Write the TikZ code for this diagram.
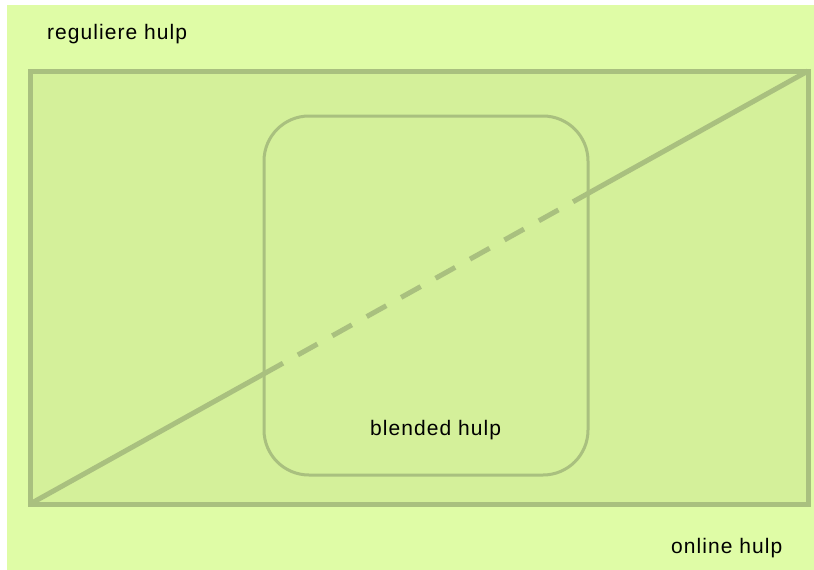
\documentclass[tikz,border=0pt]{standalone}
\usepackage{fontspec}
\setmainfont{Liberation Sans}[LetterSpace=5]
\usetikzlibrary{calc}
\definecolor{paper}{HTML}{DFFCA6}
\definecolor{field}{HTML}{D4F09A}
\definecolor{rim}{HTML}{A9C07F}
\begin{document}
\begin{tikzpicture}[x=1pt,y=-1pt,font=\fontsize{21}{25}\selectfont,
  frame/.style={draw=rim,fill=field,outer sep=0pt,inner sep=0pt}]
\useasboundingbox (0,0) rectangle (814,570);
\fill[paper] (7,5) rectangle (814,570);
\node[frame,line width=5pt,minimum width=778pt,minimum height=433pt] (online) at (419,287.5) {};
\node[frame,line width=3pt,rounded corners=45pt,minimum width=324pt,minimum height=359pt] (blended) at (426,295.5) {};
% diagonal, dashed inside the blended box
\coordinate (d1) at ($(online.south west)!0.3252!(online.north east)$);
\coordinate (d2) at ($(online.south west)!0.698!(online.north east)$);
\draw[rim,line width=5pt] (online.south west) -- (d1);
\draw[rim,line width=5pt,dash pattern=on 22.4pt off 17pt,dash phase=22.4pt] (d1) -- (d2);
\draw[rim,line width=5pt] (d2) -- (online.north east);
\node[anchor=base west,inner sep=0pt] (regulier) at (47,39) {reguliere hulp};
\node[anchor=base west,inner sep=0pt] (blendtext) at (370,435) {blended hulp};
\node[anchor=base west,inner sep=0pt] (onlinetext) at (671,553) {online hulp};
\end{tikzpicture}
\end{document}
